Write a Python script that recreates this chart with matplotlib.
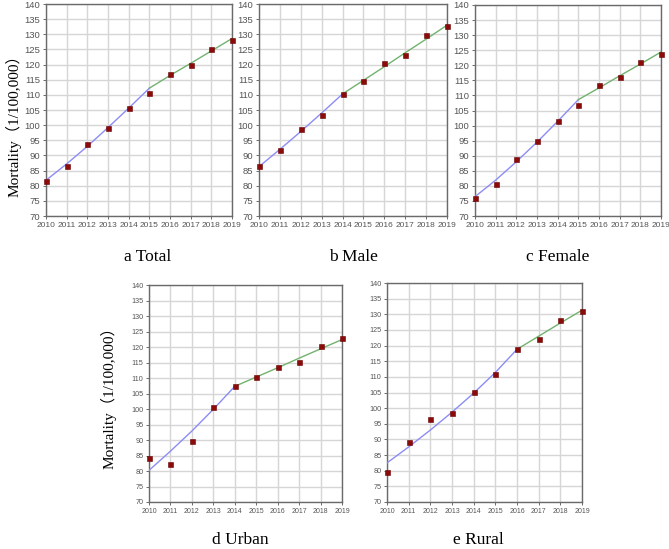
import numpy as np
import matplotlib
matplotlib.use("Agg")
import matplotlib.pyplot as plt

years = list(range(2010, 2020))

# observed mortality (1/100,000)
total_obs = [81.5, 86.5, 93.8, 99.2, 105.8, 110.7, 117.0, 119.7, 125.3, 128.1]
male_obs = [86.5, 91.9, 98.7, 103.5, 110.2, 114.6, 120.5, 123.0, 129.7, 132.6]
female_obs = [76.1, 80.7, 88.8, 95.0, 101.5, 106.8, 113.3, 116.2, 121.1, 123.7]
urban_obs = [84.3, 82.1, 89.7, 100.7, 107.3, 110.4, 113.5, 115.2, 120.2, 122.8]
rural_obs = [79.6, 89.2, 96.6, 98.6, 105.3, 110.9, 118.8, 122.1, 128.2, 131.1]

# fitted segments (before / after the joinpoint)
total_fit1 = [81.8, 87.2, 93.0, 99.2, 105.6, 112.2]
total_fit2 = [112.2, 116.4, 120.4, 124.5, 128.6]
male_fit1 = [86.3, 92.0, 97.9, 104.0, 110.3]
male_fit2 = [110.3, 114.8, 119.3, 123.9, 128.4, 133.0]
female_fit1 = [76.4, 81.9, 88.0, 94.5, 101.4, 108.6]
female_fit2 = [108.6, 112.5, 116.5, 120.4, 124.4]
urban_fit1 = [80.2, 86.4, 92.9, 99.9, 107.3]
urban_fit2 = [107.3, 110.3, 113.3, 116.4, 119.4, 122.4]
rural_fit1 = [82.5, 87.6, 93.0, 98.7, 104.8, 111.4, 118.8]
rural_fit2 = [118.8, 123.0, 127.2, 131.3]

captions = ["a Total", "b Male", "c Female", "d Urban", "e Rural"]

W, H = 669, 549
fig = plt.figure(figsize=(W / 100, H / 100), dpi=100)


def px_axes(left, right, top, bottom):
    return fig.add_axes([left / W, 1 - bottom / H, (right - left) / W, (bottom - top) / H])


# axes, data, x tick size, y tick size
panels = [
    (px_axes(46, 232, 4, 216), total_obs, total_fit1, total_fit2, 6.0, 6.8),
    (px_axes(259, 447, 4, 216), male_obs, male_fit1, male_fit2, 6.0, 6.8),
    (px_axes(475, 661, 5, 216), female_obs, female_fit1, female_fit2, 6.0, 6.8),
    (px_axes(149, 342, 285, 502), urban_obs, urban_fit1, urban_fit2, 5.0, 5.2),
    (px_axes(387, 582, 283, 502), rural_obs, rural_fit1, rural_fit2, 5.0, 5.2),
]

serif = ["Liberation Serif", "Noto Sans CJK SC"]
sans = ["Liberation Sans", "DejaVu Sans"]

for (ax, obs, fit1, fit2, fx, fy), cap, cx, cy in zip(
        panels, captions,
        [148, 353, 558, 240, 478], [257, 257, 257, 540, 540]):
    n1 = len(fit1)
    ax.plot(years[:n1], fit1, color="#8c8cf5", lw=1.0, zorder=3)
    ax.plot(years[n1 - 1:], fit2, color="#72b26e", lw=1.0, zorder=3)
    ax.plot(years, obs, "s", color="#8b0a0a", ms=3.6, mec="#6a0000", mew=0.4,
            zorder=4, clip_on=False)
    ax.set_xlim(2010, 2019)
    ax.set_ylim(70, 140)
    ax.set_xticks(years)
    ax.set_yticks(np.arange(70, 141, 5))
    ax.grid(True, color="#d6d6d6", lw=1.0)
    ax.set_axisbelow(True)
    ax.tick_params(colors="#555555", length=2, width=0.6, pad=2)
    ax.tick_params(axis="x", labelsize=fx)
    ax.tick_params(axis="y", labelsize=fy)
    for lab in ax.get_xticklabels() + ax.get_yticklabels():
        lab.set_family(sans)
    for s in ax.spines.values():
        s.set_color("#6a6a6a")
        s.set_linewidth(1.0)
    fig.text(cx / W, 1 - cy / H, cap, ha="center", va="center",
             fontsize=12.5, family=serif)

ylab = "Mortality\uff081/100,000\uff09"
fig.text(13 / W, 1 - 122 / H, ylab, rotation=90, ha="center", va="center",
         fontsize=11, family=serif)
fig.text(108 / W, 1 - 394 / H, ylab, rotation=90, ha="center", va="center",
         fontsize=11, family=serif)

fig.savefig("out.png", dpi=100)
